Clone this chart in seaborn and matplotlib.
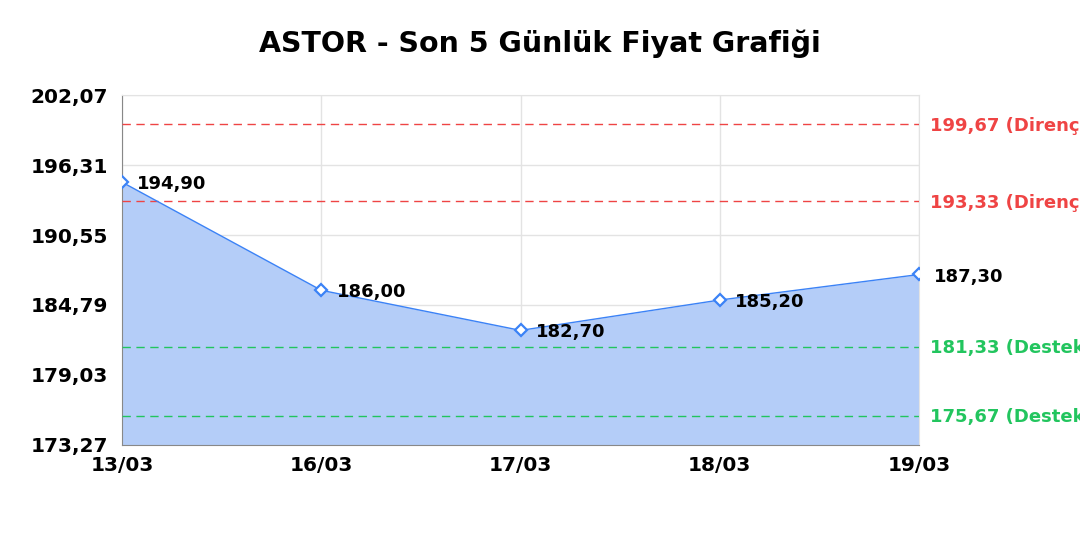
import numpy as np
import pandas as pd
import seaborn as sns
import matplotlib
matplotlib.use("Agg")
import matplotlib.pyplot as plt


dates = ["13/03", "16/03", "17/03", "18/03", "19/03"]
prices = [194.90, 186.00, 182.70, 185.20, 187.30]
resistance = [199.67, 193.33]
support = [181.33, 175.67]
y_min, y_max = 173.27, 202.07

LINE = "#3b82f6"
FILL = "#b4cdf8"
RED = "#ef4444"
GREEN = "#22c55e"


def tr(v):
    return f"{v:.2f}".replace(".", ",")


def main():
    sns.set_style("white")
    plt.rcParams["font.family"] = ["DejaVu Sans"]

    df = pd.DataFrame({"idx": range(len(dates)), "price": prices})

    fig = plt.figure(figsize=(10.8, 5.4), dpi=100)
    ax = fig.add_axes([0.113, 0.176, 0.738, 0.648])

    ax.fill_between(df["idx"], df["price"], y_min, color=FILL, zorder=1, linewidth=0)
    sns.lineplot(data=df, x="idx", y="price", ax=ax, color=LINE, linewidth=1,
                 marker="D", markersize=6.5, markerfacecolor="white",
                 markeredgecolor=LINE, markeredgewidth=1.6, zorder=4)

    for i, p in enumerate(prices):
        ax.annotate(tr(p), (i, p), xytext=(11, -1.5), textcoords="offset points",
                    fontsize=13, fontweight="bold", color="black", va="center",
                    annotation_clip=False, zorder=5)

    # level labels run past the right edge, as in the original
    last = len(dates) - 1
    for lvl in resistance:
        ax.axhline(lvl, color=RED, linestyle=(0, (6, 4)), linewidth=1, zorder=3)
        ax.annotate(f"{tr(lvl)} (Direnç)", (last, lvl), xytext=(8, -1),
                    textcoords="offset points", fontsize=13, fontweight="bold",
                    color=RED, va="center", annotation_clip=False)
    for lvl in support:
        ax.axhline(lvl, color=GREEN, linestyle=(0, (6, 4)), linewidth=1, zorder=3)
        ax.annotate(f"{tr(lvl)} (Destek)", (last, lvl), xytext=(8, -1),
                    textcoords="offset points", fontsize=13, fontweight="bold",
                    color=GREEN, va="center", annotation_clip=False)

    ticks = np.linspace(y_min, y_max, 6)
    ax.set_ylim(y_min, y_max)
    ax.set_yticks(ticks)
    ax.set_yticklabels([tr(t) for t in ticks], fontsize=14.5, fontweight="bold",
                       color="black")
    ax.set_xlim(0, last)
    ax.set_xticks(range(len(dates)))
    ax.set_xticklabels(dates, fontsize=14.5, fontweight="bold", color="black")
    ax.tick_params(axis="y", length=0, pad=10)
    ax.tick_params(axis="x", length=0, pad=8)
    ax.set_xlabel("")
    ax.set_ylabel("")

    ax.grid(True, color="#e3e3e3", linewidth=1, zorder=0)
    ax.set_axisbelow(True)
    for side in ["top", "right"]:
        ax.spines[side].set_color("#e3e3e3")
    for side in ["left", "bottom"]:
        ax.spines[side].set_color("#888888")

    fig.suptitle("ASTOR - Son 5 Günlük Fiyat Grafiği", fontsize=20.5,
                 fontweight="bold", color="black", y=0.945)

    fig.savefig("out.png", dpi=100)
    plt.close(fig)


if __name__ == "__main__":
    main()
